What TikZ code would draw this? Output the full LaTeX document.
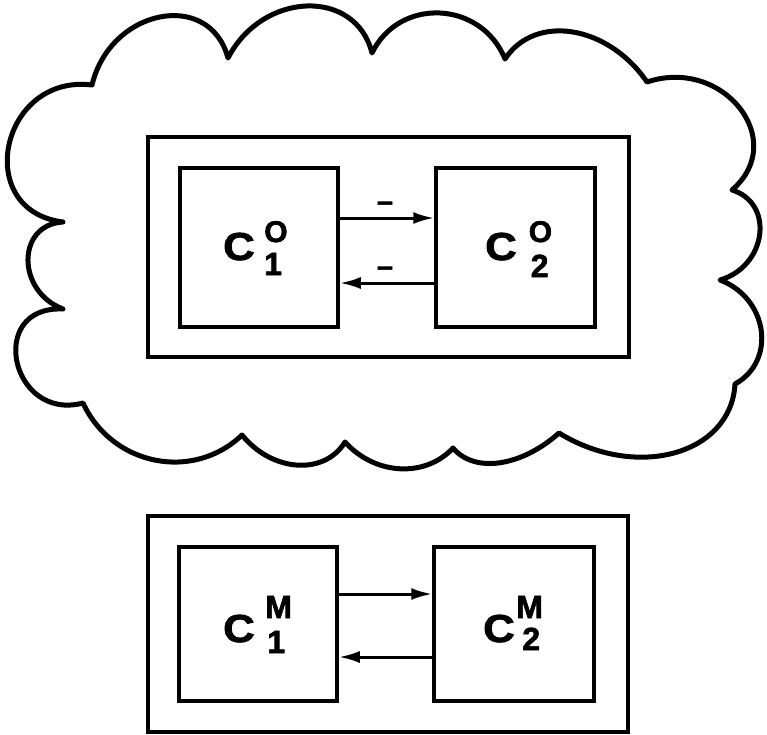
\documentclass[tikz,border=0pt]{standalone}
\usepackage{fontspec}
\setmainfont{Liberation Sans}
\newfontfamily\heavyfont{Liberation Sans Bold}[FakeBold=2]
\usetikzlibrary{calc,arrows.meta}
\newcommand\clab[6]{{\fontsize{39}{39}\selectfont\scalebox{1.12}[1]{C}}\kern#1pt\rlap{\raisebox{#3pt}{\fontsize{30}{30}\selectfont #2}}\kern#4pt\raisebox{#6pt}{\fontsize{32}{32}\selectfont #5}}
\begin{document}
\begin{tikzpicture}[x=1pt,y=-1pt,
  frame/.style={draw, line width=3.5pt, inner sep=0pt},
  cbox/.style={draw, line width=3.5pt, inner sep=0pt},
  cloudline/.style={line width=5pt, line join=round, line cap=round},
  arr/.style={line width=3pt, -{Latex[length=21pt,width=12pt]}},
  lbl/.style={inner sep=0pt, font=\heavyfont, anchor=base west},
  dashlbl/.style={inner sep=0pt, font=\heavyfont\fontsize{29}{29}\selectfont, anchor=base}]
\useasboundingbox (0,0) rectangle (767,734);
% cloud: cusps q, bump apexes k
\coordinate (q1) at (92,85);   \coordinate (k1) at (160,17);
\coordinate (q2) at (228,58);  \coordinate (k2) at (307,6);
\coordinate (q3) at (372,53);  \coordinate (k3) at (440,13);
\coordinate (q4) at (505,59);  \coordinate (k4) at (573,32);
\coordinate (q5) at (647,82);  \coordinate (k5) at (740,108);
\coordinate (q6) at (732,190); \coordinate (k6) at (760,235);
\coordinate (q7) at (720,280); \coordinate (k7) at (761,330);
\coordinate (q8) at (735,384); \coordinate (k8) at (675,453);
\coordinate (q9) at (559,433); \coordinate (k9) at (500,463);
\coordinate (q10) at (453,448); \coordinate (k10) at (400,469);
\coordinate (q11) at (345,442); \coordinate (k11) at (297,465);
\coordinate (q12) at (242,435); \coordinate (k12) at (155,460);
\coordinate (q13) at (83,403);  \coordinate (k13) at (17,362);
\coordinate (q14) at (63,309);  \coordinate (k14) at (28,260);
\coordinate (q15) at (63,222);  \coordinate (k15) at (9,145);
\draw[cloudline] (q1) foreach \i/\j/\a/\b in {1/2/0.198/0.532, 2/3/0.156/0.490, 3/4/0.141/0.475, 4/5/0.090/0.424, 5/6/0.222/0.556, 6/7/0.184/0.518, 7/8/0.135/0.468, 8/9/0.101/0.435, 9/10/0.053/0.387, 10/11/0.066/0.400, 11/12/0.088/0.421, 12/13/0.088/0.421, 13/14/0.453/0.787, 14/15/0.216/0.550, 15/1/0.333/0.667}
  { .. controls ($\a*(q\i)+1.3333*(k\i)-\b*(q\j)$) and ($\a*(q\j)+1.3333*(k\i)-\b*(q\i)$) .. (q\j) };
% upper system
\node[frame, minimum width=481pt, minimum height=220pt] (sysO) at (388.5,247) {};
\node[cbox, minimum width=158pt, minimum height=159pt] (c1o) at (259,247.5) {};
\node[cbox, minimum width=159pt, minimum height=159pt] (c2o) at (515.5,247.5) {};
\draw[arr] ([yshift=29.5pt]c1o.east) -- ([yshift=29.5pt]c2o.west);
\draw[arr] ([yshift=-35.5pt]c2o.west) -- ([yshift=-35.5pt]c1o.east);
\node[dashlbl] (m1) at (385,211) {–};
\node[dashlbl] (m2) at (385,276) {–};
\node[lbl] (l1o) at (223,260) {\clab{9.5}{O}{18}{0}{1}{-15}};
\node[lbl] (l2o) at (485,260) {\clab{12}{O}{18}{2}{2}{-17}};
% lower system
\node[frame, minimum width=480pt, minimum height=216pt] (sysM) at (388,624) {};
\node[cbox, minimum width=158pt, minimum height=154pt] (c1m) at (258,624) {};
\node[cbox, minimum width=160pt, minimum height=154pt] (c2m) at (514,624) {};
\draw[arr] ([yshift=30pt]c1m.east) -- ([yshift=30pt]c2m.west);
\draw[arr] ([yshift=-33pt]c2m.west) -- ([yshift=-33pt]c1m.east);
\node[lbl] (l1m) at (223,642) {\clab{10.6}{\fontsize{32}{32}\selectfont M}{24}{2}{1}{-11}};
\node[lbl] (l2m) at (483,642) {\clab{1.6}{\fontsize{32}{32}\selectfont M}{24}{6}{2}{-8}};
\end{tikzpicture}
\end{document}
